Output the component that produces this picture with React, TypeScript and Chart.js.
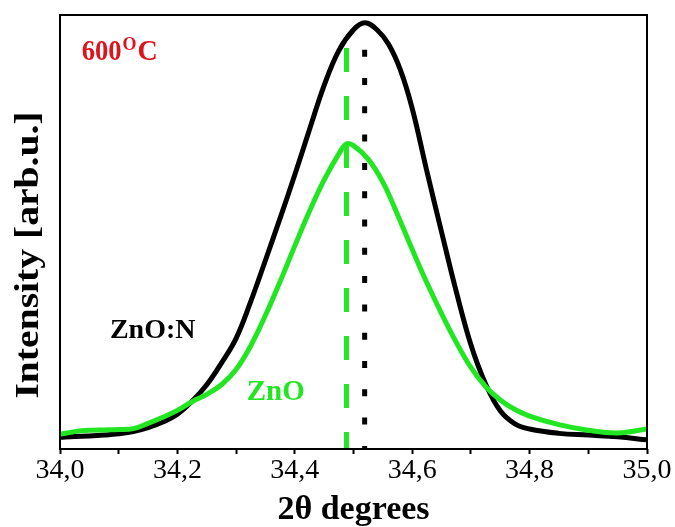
import React, { useEffect, useRef } from "react";
import { Chart, registerables } from "chart.js";

Chart.register(...registerables);

// ---- data ----
const xMin = 34.0;
const xMax = 35.0;
const tickLabels = ["34,0", "34,2", "34,4", "34,6", "34,8", "35,0"];

// ZnO:N (black)
const znoNX = [34.0, 34.025, 34.05, 34.075, 34.1, 34.125, 34.15, 34.175, 34.2, 34.225, 34.25, 34.275, 34.3, 34.325, 34.35, 34.375, 34.4, 34.425, 34.45, 34.475, 34.5, 34.519, 34.54, 34.56, 34.58, 34.6, 34.625, 34.65, 34.675, 34.7, 34.725, 34.75, 34.775, 34.8, 34.85, 34.9, 34.95, 35.0];
const znoNY = [2.7, 2.9, 3.0, 3.2, 3.5, 4.0, 4.9, 6.2, 8.0, 11.0, 14.8, 19.8, 25.5, 34.0, 43.5, 53.2, 63.2, 73.6, 83.8, 91.8, 96.6, 98.2, 96.6, 93.2, 87.3, 78.5, 64.0, 50.0, 36.3, 24.0, 15.0, 8.8, 5.8, 4.6, 3.6, 3.2, 2.8, 2.1];

// ZnO (green)
const znoX = [34.0, 34.025, 34.05, 34.075, 34.1, 34.125, 34.15, 34.175, 34.2, 34.225, 34.25, 34.275, 34.3, 34.325, 34.35, 34.375, 34.4, 34.425, 34.45, 34.475, 34.488, 34.5, 34.525, 34.55, 34.575, 34.6, 34.625, 34.65, 34.675, 34.7, 34.725, 34.75, 34.775, 34.8, 34.85, 34.9, 34.95, 35.0];
const znoY = [3.4, 4.0, 4.3, 4.4, 4.5, 4.7, 5.9, 7.3, 8.9, 10.9, 12.6, 14.8, 18.3, 23.8, 30.8, 38.6, 46.8, 54.8, 62.0, 68.0, 70.3, 69.9, 66.8, 61.5, 54.0, 46.0, 38.3, 31.2, 24.6, 18.8, 14.4, 11.3, 9.1, 7.6, 5.6, 4.3, 3.7, 4.6];

const znoNPeakX = 34.519;
const znoPeakX = 34.488;
const markerTopY = [92.0, 92.4];

const BLACK = "#000000";
const GREEN = "#22e622";
const RED = "#dc141e";
const FONT = "'Liberation Serif', 'Times New Roman', serif";

const pts = (xs: number[], ys: number[]) => xs.map((x, i) => ({ x, y: ys[i] }));

const decorPlugin = {
  id: "decor",
  afterDatasetsDraw(chart: any) {
    const { ctx, chartArea, scales } = chart;
    const xs = scales.x;
    const ys = scales.y;
    ctx.save();
    // frame
    ctx.strokeStyle = BLACK;
    ctx.lineWidth = 2;
    ctx.strokeRect(chartArea.left, chartArea.top, chartArea.right - chartArea.left, chartArea.bottom - chartArea.top);

    const txt = (s: string, x: number, y: number, size: number, color: string, sx = 1, sy = 1) => {
      ctx.save();
      ctx.translate(x, y);
      ctx.scale(sx, sy);
      ctx.font = `bold ${size}px ${FONT}`;
      ctx.fillStyle = color;
      ctx.textAlign = "left";
      ctx.textBaseline = "alphabetic";
      ctx.fillText(s, 0, 0);
      const w = ctx.measureText(s).width * sx;
      ctx.restore();
      return w;
    };

    // 600°C label
    let px = xs.getPixelForValue(34.037);
    const py = ys.getPixelForValue(89.7);
    px += txt("600", px, py, 28, RED, 0.95, 1.05);
    px += txt("O", px + 1, py - 10, 18, RED, 1, 1.0) + 2;
    txt("C", px, py, 28, RED, 1, 1.05);

    txt("ZnO:N", xs.getPixelForValue(34.085), ys.getPixelForValue(25.6), 28, BLACK);
    txt("ZnO", xs.getPixelForValue(34.318), ys.getPixelForValue(11.2), 29, GREEN, 1, 1.05);

    // y-axis title
    ctx.save();
    ctx.translate(29, 255);
    ctx.rotate(-Math.PI / 2);
    ctx.scale(1.2, 1);
    ctx.font = `bold 33px ${FONT}`;
    ctx.fillStyle = BLACK;
    ctx.textAlign = "center";
    ctx.textBaseline = "middle";
    ctx.fillText("Intensity [arb.u.]", 0, 0);
    ctx.restore();

    ctx.restore();
  },
};

export default function App() {
  const ref = useRef<HTMLCanvasElement>(null);
  useEffect(() => {
    const canvas = ref.current!;
    const chart = new Chart(canvas, {
      type: "line",
      data: {
        datasets: [
          {
            data: [{ x: znoPeakX, y: markerTopY[1] }, { x: znoPeakX, y: 0 }],
            borderColor: GREEN,
            borderWidth: 5,
            borderDash: [24, 24],
            borderCapStyle: "butt",
            pointRadius: 0,
          },
          {
            data: pts(znoX, znoY),
            borderColor: GREEN,
            borderWidth: 5,
            tension: 0.4,
            pointRadius: 0,
          },
          {
            data: [{ x: znoNPeakX, y: markerTopY[0] }, { x: znoNPeakX, y: 0 }],
            borderColor: BLACK,
            borderWidth: 5,
            borderDash: [7, 21.3],
            borderCapStyle: "butt",
            pointRadius: 0,
          },
          {
            data: pts(znoNX, znoNY),
            borderColor: BLACK,
            borderWidth: 5,
            tension: 0.4,
            pointRadius: 0,
          },
        ],
      },
      options: {
        animation: false,
        responsive: false,
        devicePixelRatio: 1,
        layout: { padding: { left: 60, right: 28, top: 15, bottom: 0 } },
        plugins: { legend: { display: false }, tooltip: { enabled: false } },
        scales: {
          x: {
            type: "linear",
            min: xMin,
            max: xMax,
            border: { display: false },
            grid: {
              display: true,
              drawOnChartArea: false,
              drawTicks: true,
              tickLength: 5,
              tickWidth: 2,
              tickColor: BLACK,
            },
            ticks: {
              stepSize: 0.1,
              autoSkip: false,
              maxRotation: 0,
              padding: 3,
              color: BLACK,
              font: { family: FONT, size: 28, lineHeight: 1 },
              callback: (v: any) => {
                const k = Math.round((Number(v) - xMin) * 10);
                return k % 2 === 0 ? tickLabels[k / 2] : "";
              },
            },
            title: {
              display: true,
              text: "2θ degrees",
              color: BLACK,
              font: { family: FONT, size: 34, weight: "bold", lineHeight: 1 },
              padding: { top: 5, bottom: 0 },
            },
          },
          y: {
            type: "linear",
            display: false,
            min: 0,
            max: 100,
          },
        },
      },
      plugins: [decorPlugin],
    } as any);
    return () => chart.destroy();
  }, []);
  return (
    <div style={{ position: "absolute", left: 0, top: 0, width: 675, height: 527, background: "#fff" }}>
      <canvas ref={ref} width={675} height={527} style={{ display: "block" }} />
    </div>
  );
}
